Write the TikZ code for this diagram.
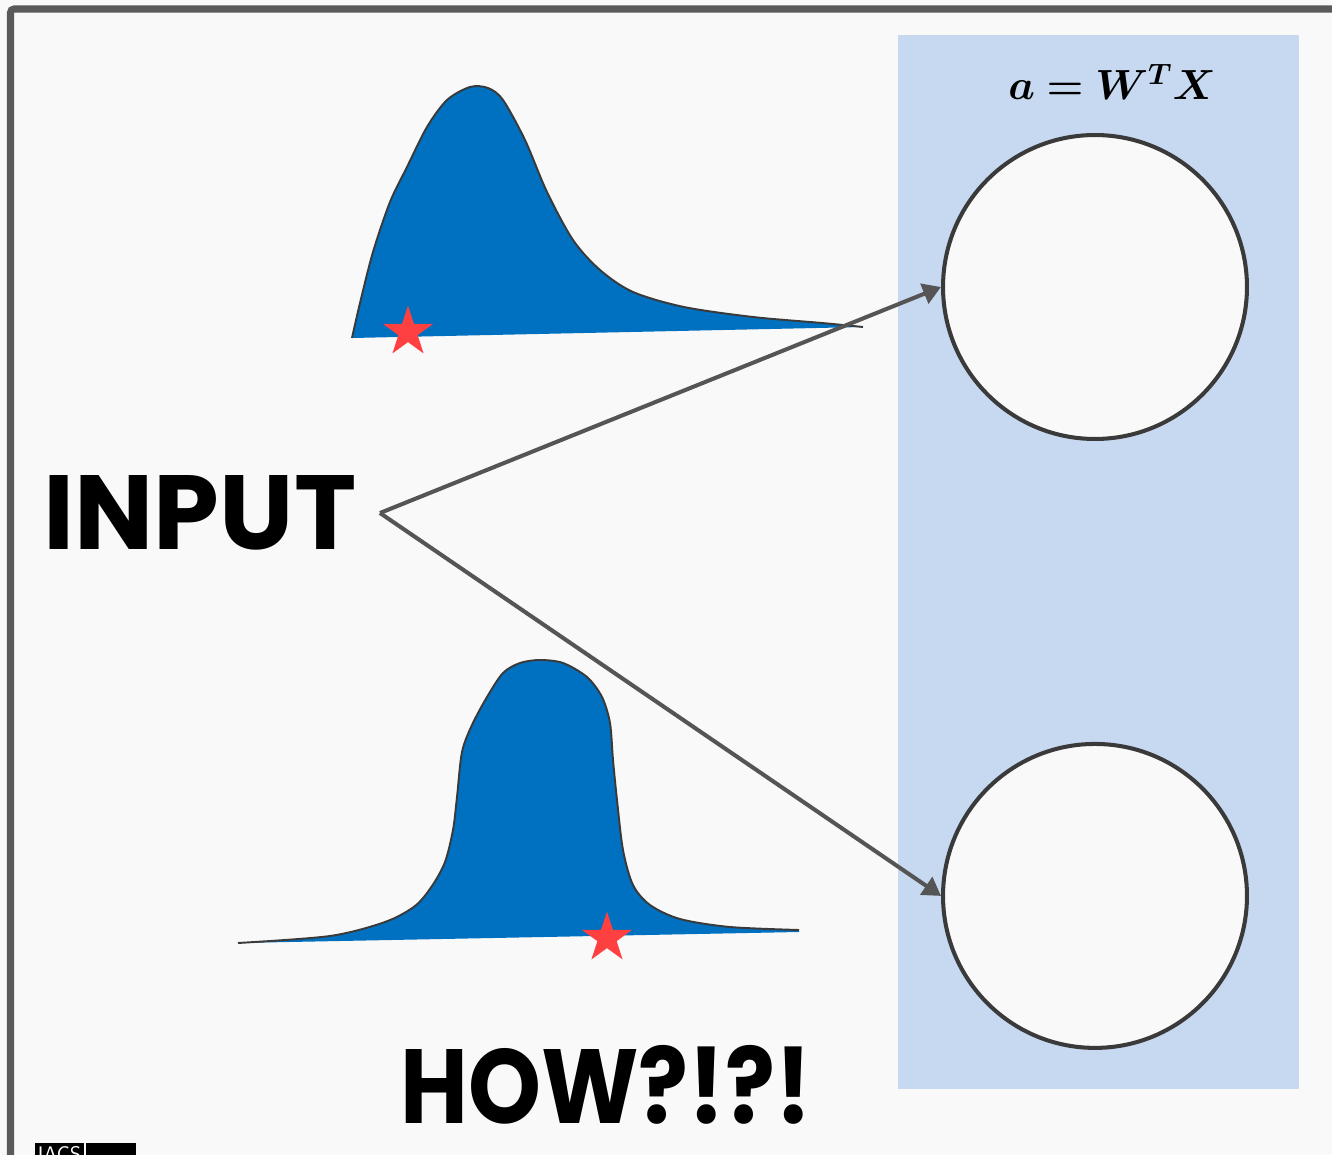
\RequirePackage{fix-cm}
\documentclass[tikz,border=0pt]{standalone}
\usepackage{amsmath}
\usepackage{bm}
\usepackage{graphicx}
\usepackage{fontspec}
\newfontfamily\comicfont{Poppins}
\usepackage{xcolor}
\definecolor{pagegray}{RGB}{249,249,249}
\definecolor{framegray}{RGB}{90,90,90}
\definecolor{panelblue}{RGB}{198,217,240}
\definecolor{distblue}{RGB}{0,112,192}
\definecolor{edgegray}{RGB}{58,58,58}
\definecolor{wiregray}{RGB}{85,85,85}
\definecolor{starred}{RGB}{255,64,64}
\usetikzlibrary{arrows.meta, positioning, shapes.geometric}

\begin{document}
\begin{tikzpicture}[x=0.02cm, y=-0.02cm,
  neuron/.style={circle, draw=edgegray, line width=2.3pt, fill=pagegray,
                 minimum size=6.08cm, inner sep=0pt},
  wire/.style={draw=wiregray, line width=2.3pt,
               -{Triangle[length=0.36cm, width=0.42cm]}},
  density/.style={fill=distblue},
  densityedge/.style={draw=edgegray, line width=1.1pt},
  redstar/.style={star, star points=5, star point ratio=2.618, fill=starred,
                  minimum size=1.06cm, inner sep=0pt},
  bigword/.style={font=\comicfont\bfseries\fontsize{60}{60}\selectfont, inner sep=0pt}]

% Page and frame
\useasboundingbox (0,0) rectangle (1332,1155);
\fill[pagegray] (0,0) rectangle (1332,1155);
\draw[framegray, line width=4pt, rounded corners=2pt] (10.5,1300) -- (10.5,9) -- (1400,9);

% Layer panel
\fill[panelblue] (898,35) rectangle (1299,1089);
\node[font=\fontsize{24}{24}\selectfont] (formula) at (1112,82) {$\bm{a = W^T X}$};

% Neurons
\node[neuron] (neuronA) at (1095,287) {};
\node[neuron, below=6.02cm of neuronA] (neuronB) {};

% Skewed input distribution
\fill[density] plot[smooth, tension=0.5] coordinates {(352,338) (360,303) (373,252)
  (390,202) (407,167) (427,127) (447,100) (470,87) (488,88) (503,100) (525,140)
  (547,192) (573,240) (600,270) (633,292) (684,307) (753,317) (822,323) (863,327)}
  -- cycle;
\draw[densityedge] plot[smooth, tension=0.5] coordinates {(352,338) (360,303) (373,252)
  (390,202) (407,167) (427,127) (447,100) (470,87) (488,88) (503,100) (525,140)
  (547,192) (573,240) (600,270) (633,292) (684,307) (753,317) (822,323) (863,327)};
\node[redstar] (starA) at (408,332) {};

% Peaked input distribution
\fill[density] plot[smooth, tension=0.5] coordinates {(238,943) (330,936) (385,922)
  (415,906) (432,886) (445,862) (453,830) (457,797) (462,752) (472,725) (487,697)
  (503,673) (520,663) (540,660) (563,663) (587,677) (602,697) (610,723) (613,760)
  (617,800) (623,850) (633,885) (650,905) (680,919) (730,927) (799,930)}
  -- (799,932) -- cycle;
\draw[densityedge] plot[smooth, tension=0.5] coordinates {(238,943) (330,936) (385,922)
  (415,906) (432,886) (445,862) (453,830) (457,797) (462,752) (472,725) (487,697)
  (503,673) (520,663) (540,660) (563,663) (587,677) (602,697) (610,723) (613,760)
  (617,800) (623,850) (633,885) (650,905) (680,919) (730,927) (799,930)};
\node[redstar] (starB) at (607,938) {};

% Input and connections
\node[bigword] (input) at (200,513) {INPUT};
\coordinate (fork) at (380,513);
\draw[wire] (fork) -- (neuronA.west);
\draw[wire] (fork) -- (neuronB.west);

% Question
\node[bigword] (how) at (606,1085) {\scalebox{0.88}[1]{HOW?!?!}};

% Logo
\node[fill=black, text=white, font=\sffamily\fontsize{12}{12}\selectfont,
      inner sep=1.5pt, anchor=north west] (iacs) at (35,1143) {IACS};
\node[fill=black, minimum width=1cm, minimum height=0.4cm, inner sep=0pt,
      anchor=north west] (shield) at (86,1143) {};

\end{tikzpicture}
\end{document}
